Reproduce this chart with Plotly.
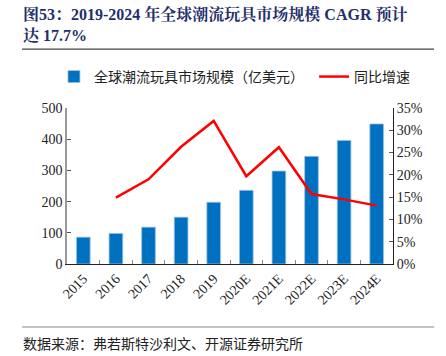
import plotly.graph_objects as go

years = ["2015", "2016", "2017", "2018", "2019", "2020E", "2021E", "2022E", "2023E", "2024E"]
market_size = [86, 98, 118, 150, 198, 236, 298, 345, 396, 449]
growth_years = ["2016", "2017", "2018", "2019", "2020E", "2021E", "2022E", "2023E", "2024E"]
growth_pct = [14.9, 19.0, 26.3, 32.1, 19.7, 26.2, 15.7, 14.5, 13.1]

left_ticks = [0, 100, 200, 300, 400, 500]
right_ticks = [0, 5, 10, 15, 20, 25, 30, 35]

FONT = "Times New Roman, Liberation Serif, Noto Sans CJK SC, serif"
BLUE = "#0070C0"
RED = "#FF0000"

fig = go.Figure()
fig.add_trace(go.Bar(
    x=years, y=market_size, name="全球潮流玩具市场规模（亿美元）",
    marker=dict(color=BLUE, line=dict(color="#9DC3E6", width=0.8)),
    yaxis="y", legend="legend",
))
fig.add_trace(go.Scatter(
    x=growth_years, y=growth_pct, name="同比增速", mode="lines",
    line=dict(color=RED, width=2.5), yaxis="y2", legend="legend2",
))

legend_common = dict(orientation="h", yanchor="middle", y=1.199, xanchor="left",
                     font=dict(family="Noto Sans CJK SC", size=14, color="#222"),
                     itemwidth=30, bgcolor="rgba(0,0,0,0)", borderwidth=0)

fig.update_layout(
    width=446, height=356,
    margin=dict(l=67, r=53, t=108, b=92, autoexpand=False),
    paper_bgcolor="white", plot_bgcolor="white",
    font=dict(family=FONT, size=14, color="#222"),
    bargap=0.58,
    showlegend=True,
    legend=dict(x=-0.04, **legend_common),
    legend2=dict(x=0.758, **legend_common),
    xaxis=dict(
        type="category", tickangle=-45, showline=True, linecolor="#222", linewidth=1,
        ticks="inside", tickson="boundaries", ticklen=4, tickcolor="#888",
        showgrid=False, tickfont=dict(family=FONT, size=14), automargin=False,
    ),
    yaxis=dict(
        range=[0, 500], tickvals=left_ticks, showline=True, linecolor="#999", linewidth=1.5,
        ticks="inside", ticklen=4, tickcolor="#555", showgrid=False, zeroline=False,
        tickfont=dict(family=FONT, size=14), automargin=False,
    ),
    yaxis2=dict(
        range=[0, 35], tickvals=right_ticks, ticktext=[f"{v}%" for v in right_ticks],
        overlaying="y", side="right", showline=True, linecolor="#222", linewidth=1,
        ticks="inside", ticklen=4, tickcolor="#555", showgrid=False, zeroline=False,
        tickfont=dict(family=FONT, size=14), automargin=False,
    ),
)

TITLE_FONT = "Times New Roman, Liberation Serif, Noto Serif CJK SC, Noto Sans CJK SC, serif"
fig.add_annotation(
    xref="paper", yref="paper", x=-0.14, y=1.675, xanchor="left", yanchor="top",
    text="<b>图53：2019-2024 年全球潮流玩具市场规模 CAGR 预计</b><br><b>达 17.7%</b>",
    align="left", showarrow=False,
    font=dict(family=TITLE_FONT, size=16, color="#1F2F6B"),
)
fig.add_shape(type="line", xref="paper", yref="paper",
              x0=-0.138, x1=1.126, y0=1.378, y1=1.378,
              line=dict(color="#444", width=1.2))
fig.add_shape(type="line", xref="paper", yref="paper",
              x0=-0.138, x1=1.126, y0=-0.404, y1=-0.404,
              line=dict(color="#888", width=1.2))
fig.add_annotation(
    xref="paper", yref="paper", x=-0.14, y=-0.506, xanchor="left", yanchor="middle",
    text="数据来源：弗若斯特沙利文、开源证券研究所", showarrow=False,
    font=dict(family="Noto Sans CJK SC", size=14, color="#222"),
)

fig.write_html("out.html", post_script="document.body.style.margin='0';",
               config={"displayModeBar": False})
